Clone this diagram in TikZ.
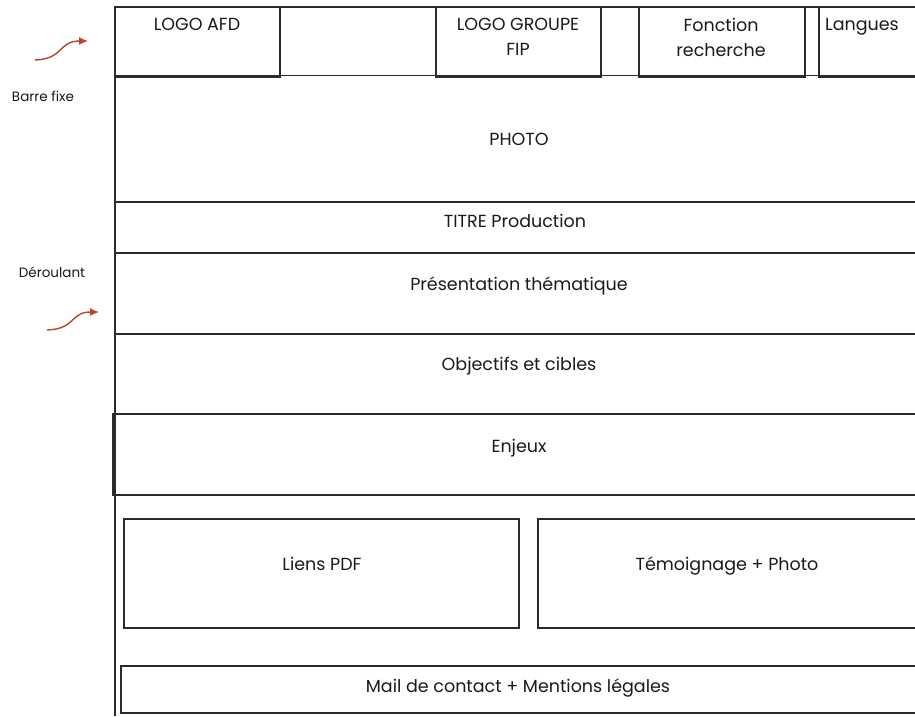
\documentclass[tikz,border=0pt]{standalone}
\usepackage{fontspec}
\setmainfont{Poppins}
\usepackage{tikz}
\usetikzlibrary{calc,arrows.meta}
\definecolor{frame}{HTML}{2B2B2B}
\definecolor{ink}{HTML}{1A1A1A}
\definecolor{rust}{HTML}{B5472B}
\tikzset{
  zone/.style={draw=frame, line width=1.3pt},
  lab/.style={text=ink, font=\fontsize{17.5}{24.5}\selectfont, align=center, inner sep=0pt, anchor=base},
  side/.style={text=ink, font=\fontsize{13.5}{16}\selectfont, inner sep=0pt, anchor=base},
  hint/.style={draw=rust, line width=1.4pt, -{Latex[length=9pt,width=8pt]}}
}
\begin{document}
\begin{tikzpicture}[x=1pt,y=-1pt]
  \clip (0,0) rectangle (915,716);
  \fill[white] (0,0) rectangle (915,716);

  % barre fixe
  \draw[zone] (115,7) rectangle (930,75.5);
  \draw[zone] (115,7) rectangle (280,77);
  \draw[zone] (436,7) rectangle (601,77);
  \draw[zone] (639,7) rectangle (805,77);
  \draw[zone] (819,7) rectangle (930,77);
  \node[lab] (afd) at (197,30) {LOGO AFD};
  \node[lab, anchor=north] (fip) at (518,18) {LOGO GROUPE\\FIP};
  \node[lab, anchor=north] (search) at (721,18) {Fonction\\recherche};
  \node[lab] (lang) at (862,30) {Langues};

  % deroulant
  \draw[zone] (115,77) -- (115,716);
  \draw[zone] (115,202) -- (930,202);
  \draw[zone] (115,253) -- (930,253);
  \draw[zone] (115,334) -- (930,334);
  \draw[zone] (113,414) rectangle (930,495);
  \draw[zone] (124,519) rectangle (519,628);
  \draw[zone] (538,519) rectangle (930,628);
  \draw[zone] (121,666) rectangle (930,713);

  \node[lab] (photo) at (519,145) {PHOTO};
  \node[lab] (titre) at (515,227) {TITRE Production};
  \node[lab] (theme) at (519,290) {Présentation thématique};
  \node[lab] (cibles) at (519,370) {Objectifs et cibles};
  \node[lab] (enjeux) at (519,452) {Enjeux};
  \node[lab] (pdf) at (322,570) {Liens PDF};
  \node[lab] (temoin) at (727,570) {Témoignage + Photo};
  \node[lab] (mail) at (518,692) {Mail de contact + Mentions légales};

  % legendes
  \node[side] (fixe) at (43,101) {Barre fixe};
  \node[side] (deroul) at (52,277) {Déroulant};
  \coordinate (a1) at (35,60);
  \coordinate (b1) at (88,41);
  \coordinate (a2) at (47,330);
  \coordinate (b2) at (99,312);
  \draw[hint] (a1) .. controls (64,59) and (58,41) .. (b1);
  \draw[hint] (a2) .. controls (76,329) and (70,312) .. (b2);
\end{tikzpicture}
\end{document}
